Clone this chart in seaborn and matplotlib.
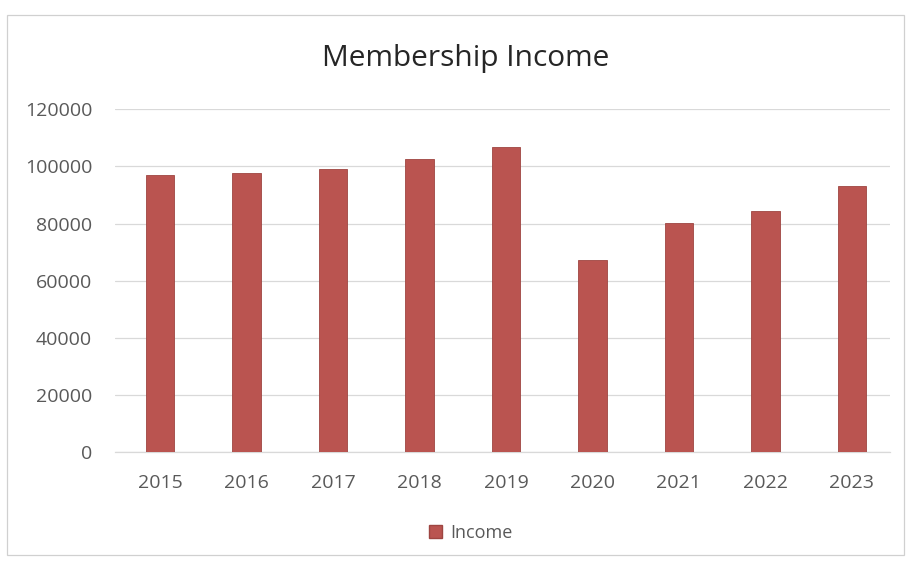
import matplotlib
matplotlib.use("Agg")
import matplotlib.pyplot as plt
from matplotlib.patches import Rectangle, Patch
import seaborn as sns
import pandas as pd

years = ["2015", "2016", "2017", "2018", "2019", "2020", "2021", "2022", "2023"]
income = [97000, 97600, 99000, 102500, 106900, 67200, 80100, 84500, 93200]
y_ticks = [0, 20000, 40000, 60000, 80000, 100000, 120000]

bar_color = "#BA5450"
text_color = "#595959"

sns.set_theme(style="white")
plt.rcParams["font.family"] = ["Open Sans", "DejaVu Sans"]

df = pd.DataFrame({"Year": years, "Income": income})

fig = plt.figure(figsize=(9.09, 5.62), dpi=100)
ax = fig.add_axes([0.1265, 0.1957, 0.8525, 0.6098])

sns.barplot(data=df, x="Year", y="Income", color=bar_color, width=0.33,
            saturation=1, edgecolor="#9E4541", linewidth=0.6, ax=ax, zorder=3)

ax.set_ylim(0, 120000)
ax.set_xlim(-0.52, 8.44)
ax.set_yticks(y_ticks)
ax.set_yticklabels([str(v) for v in y_ticks])
ax.yaxis.grid(True, color="#D9D9D9", linewidth=0.9, zorder=0)
ax.xaxis.grid(False)
for side in ["top", "right", "left"]:
    ax.spines[side].set_visible(False)
ax.spines["bottom"].set_color("#D9D9D9")
ax.spines["bottom"].set_linewidth(0.9)
ax.tick_params(axis="both", length=0, labelsize=14, labelcolor=text_color)
ax.tick_params(axis="y", pad=16.5)
ax.tick_params(axis="x", pad=16)
ax.set_xlabel("")
ax.set_ylabel("")

fig.text(0.512, 0.896, "Membership Income", ha="center", va="center",
         fontsize=21.5, color="#262626")

handle = Patch(facecolor=bar_color, edgecolor="#9E4541", label="Income")
fig.legend(handles=[handle], loc="center", bbox_to_anchor=(0.518, 0.052),
           frameon=False, fontsize=13, handlelength=0.75, handleheight=0.75,
           handletextpad=0.45, labelcolor=text_color)

# chart frame
fig.patches.append(Rectangle((0.008, 0.012), 0.987, 0.962, transform=fig.transFigure,
                             fill=False, edgecolor="#D0D0D0", linewidth=0.9))

fig.savefig("out.png", dpi=100, facecolor="white")
